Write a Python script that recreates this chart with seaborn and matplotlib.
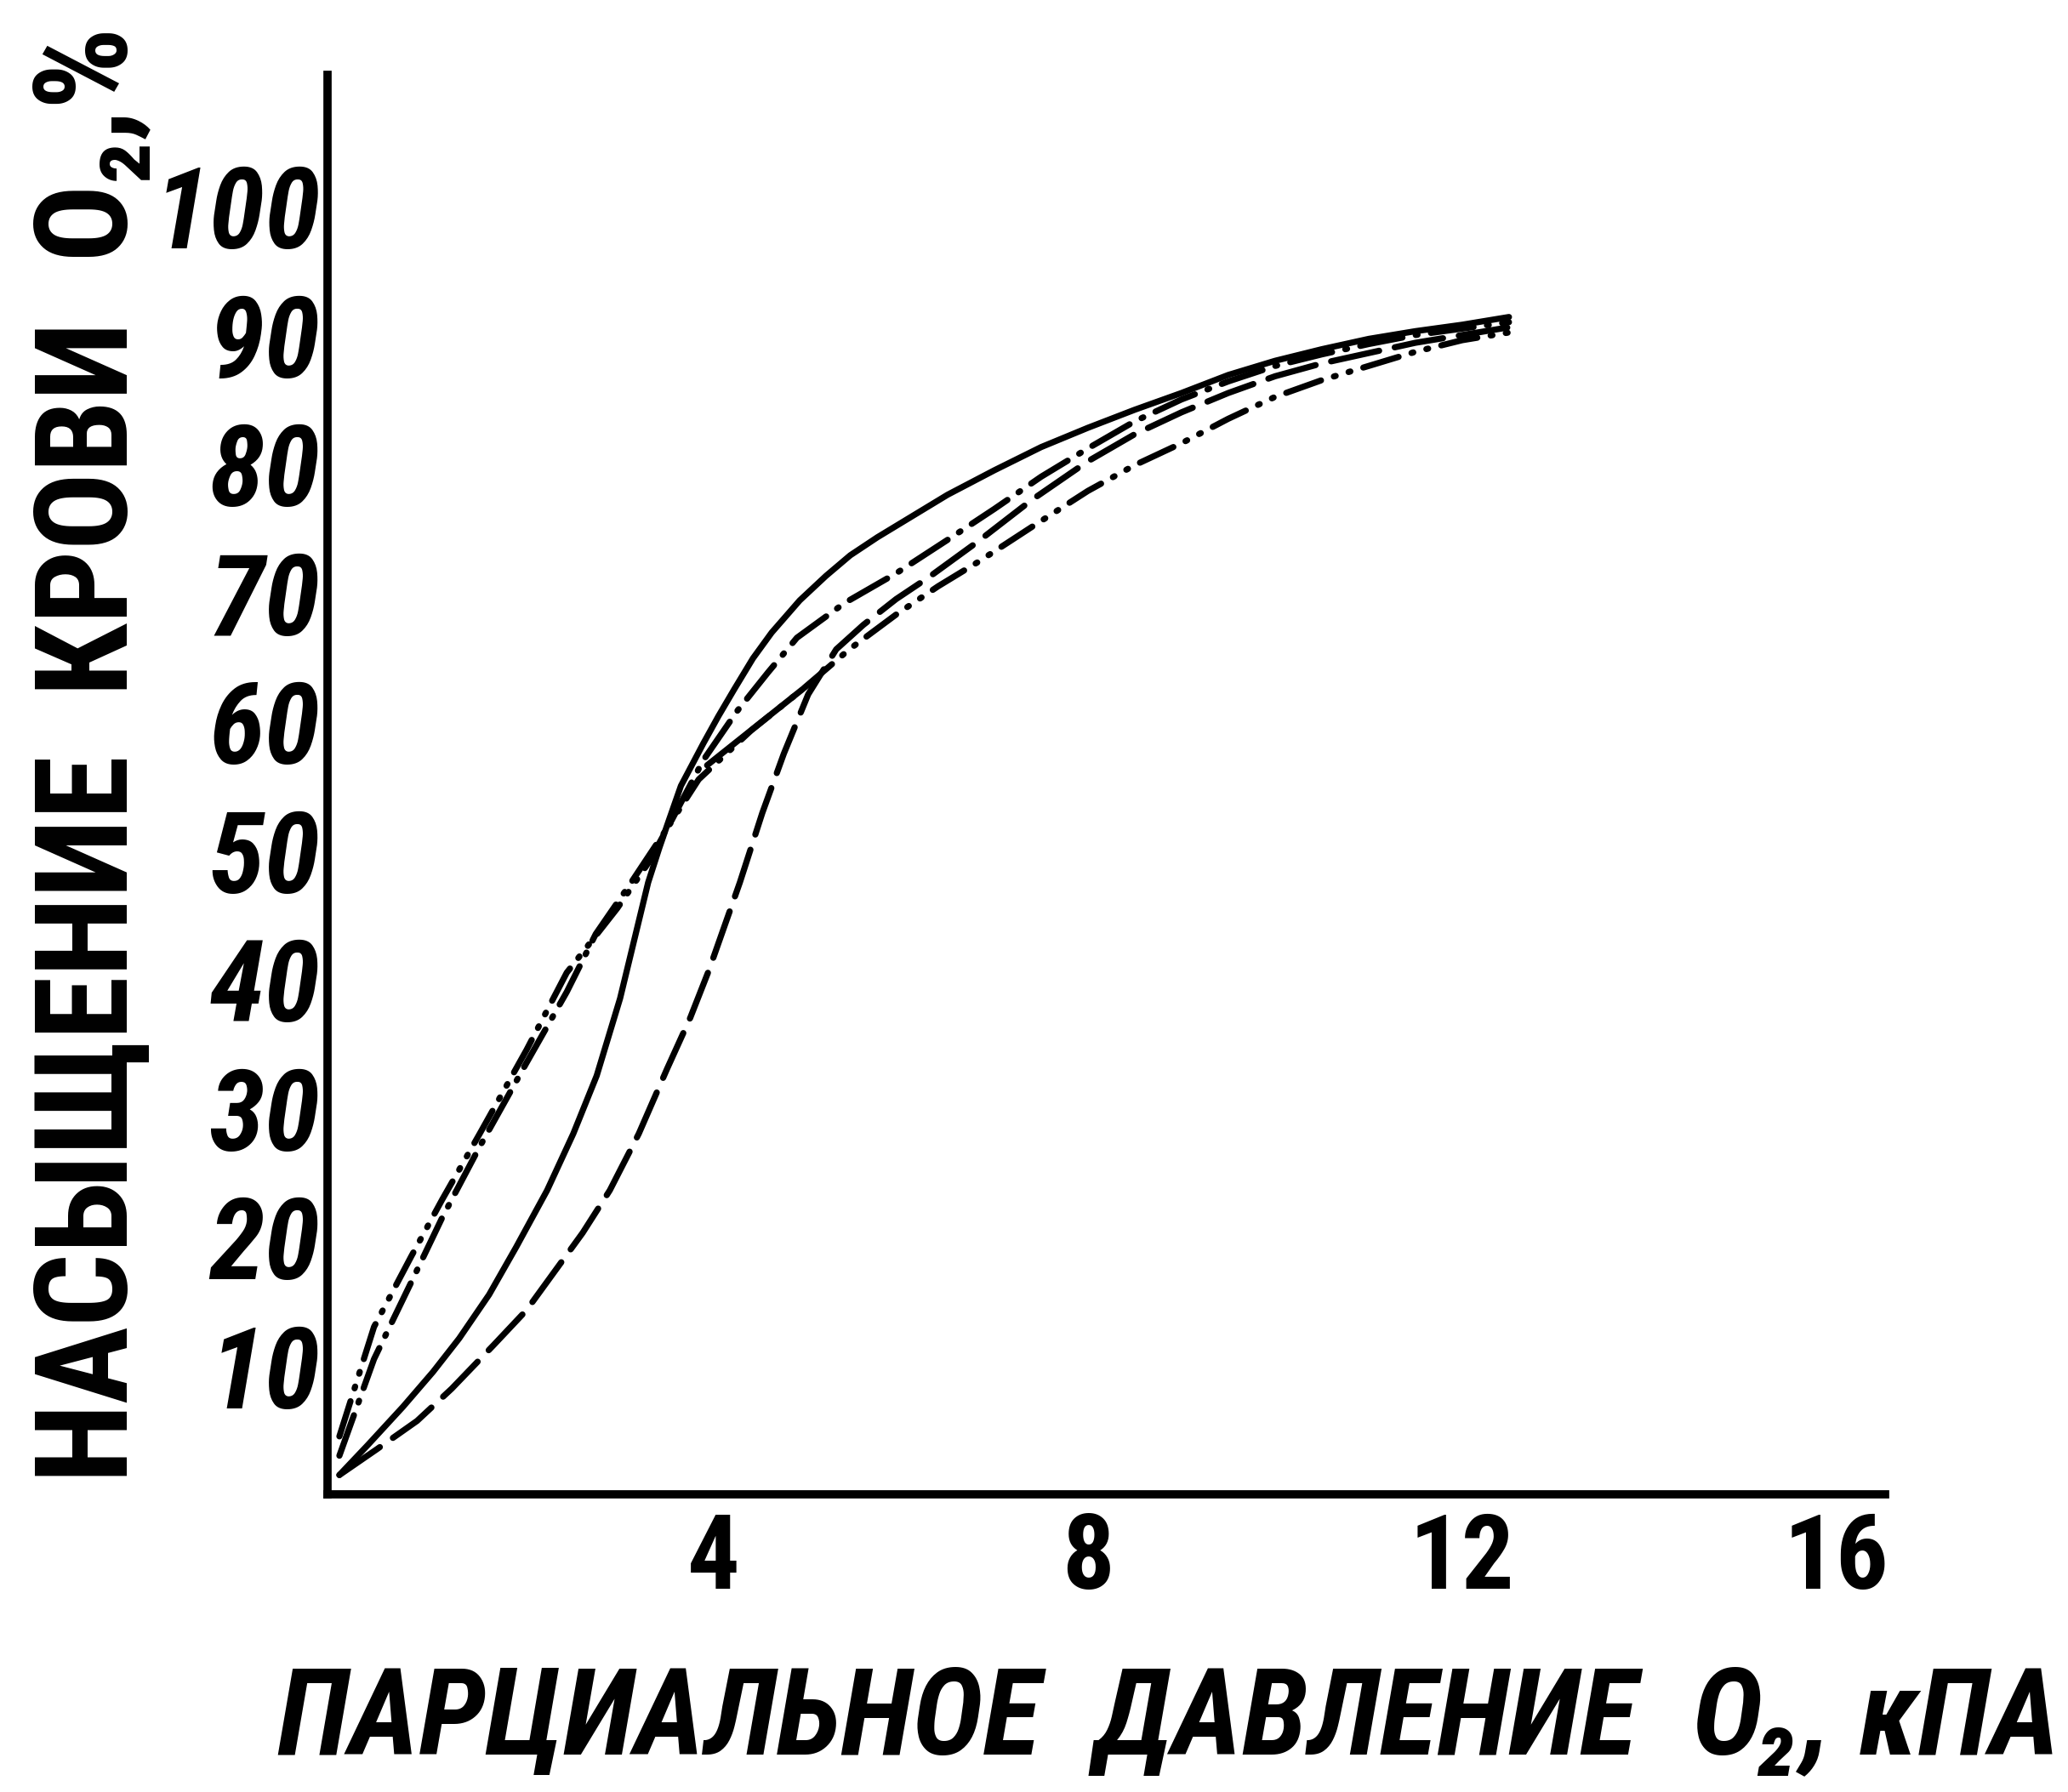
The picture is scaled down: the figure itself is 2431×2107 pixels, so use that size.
import matplotlib
matplotlib.use("Agg")
import matplotlib.pyplot as plt
import pandas as pd
import seaborn as sns
from matplotlib import font_manager as fm

# ---------------- data ----------------
solid_x = [0.0, 0.3, 0.68, 1.0, 1.28, 1.6, 1.89, 2.22, 2.5, 2.75, 3.0, 3.15, 3.3, 3.42, 3.52,
           3.65, 3.89, 4.05, 4.22, 4.42, 4.62, 4.92, 5.2, 5.46, 5.75, 6.0, 6.5, 7.0, 7.5,
           8.0, 8.5, 9.0, 9.5, 10.0, 10.5, 11.0, 11.5, 12.0, 12.5]
solid_y = [1.5, 3.8, 6.8, 9.5, 12.1, 15.5, 19.2, 23.6, 28.0, 32.5, 38.5, 43.0, 47.5, 50.2, 52.3,
           55.0, 58.3, 60.4, 62.5, 64.9, 66.9, 69.4, 71.3, 72.9, 74.3, 75.4, 77.6, 79.5, 81.3,
           82.8, 84.2, 85.5, 86.9, 88.0, 88.9, 89.7, 90.3, 90.8, 91.4]

dashed_x = [0.0, 0.4, 0.83, 1.2, 1.65, 2.0, 2.31, 2.6, 2.89, 3.2, 3.5, 3.75, 3.95,
            4.28, 4.52, 4.75, 5.01, 5.31, 5.6, 5.95, 6.3, 6.83, 7.4, 8.0, 8.5, 9.0, 9.5,
            10.0, 10.5, 11.0, 11.5, 12.0, 12.5]
dashed_y = [1.5, 3.5, 5.7, 8.2, 11.6, 14.3, 17.4, 20.3, 23.6, 28.0, 33.0, 37.0, 40.7,
            47.5, 52.9, 57.5, 62.1, 65.6, 67.5, 69.5, 71.2, 74.0, 77.2, 80.2, 82.3, 84.0, 85.5,
            86.8, 87.8, 88.6, 89.4, 90.0, 90.6]

dashdotdot_x = [0.0, 0.37, 0.77, 1.1, 1.5, 2.0, 2.43, 2.97, 3.3, 3.52, 3.84, 4.4, 4.95,
                5.45, 5.95, 6.4, 6.83, 7.4, 8.0, 8.5, 9.0, 9.5, 10.0, 10.5, 11.0, 11.5,
                12.0, 12.5]
dashdotdot_y = [4.5, 13.0, 18.5, 22.9, 28.0, 34.5, 40.5, 45.5, 49.0, 51.9, 55.5, 59.3, 62.5,
                65.6, 68.3, 70.5, 72.4, 75.1, 77.9, 79.9, 81.6, 83.5, 85.2, 86.5, 87.6, 88.7,
                89.6, 90.2]

dashdot_x = [0.0, 0.37, 0.77, 1.1, 1.5, 2.0, 2.43, 2.74, 3.1, 3.52, 3.89, 4.25, 4.58, 4.89,
             5.4, 5.95, 6.5, 7.0, 7.5, 8.0, 8.5, 9.0, 9.5, 10.0, 10.5, 11.0, 11.5, 12.0, 12.5]
dashdot_y = [3.0, 10.5, 16.5, 21.5, 27.0, 33.5, 39.0, 43.5, 47.3, 51.9, 57.0, 60.8, 63.8, 66.5,
             69.2, 71.5, 74.1, 76.5, 79.0, 81.2, 83.3, 85.0, 86.4, 87.6, 88.5, 89.3, 90.0,
             90.5, 91.0]

chord_x = [3.93, 4.95]
chord_y = [56.6, 62.5]

x_ticks = [4, 8, 12, 16]
y_ticks = [10, 20, 30, 40, 50, 60, 70, 80, 90, 100]

x_label = "ПАРЦИАЛЬНОЕ  ДАВЛЕНИЕ  O₂, кПА"
y_label = "НАСЫЩЕНИЕ  КРОВИ  O₂,%"

# ---------------- fonts ----------------
sns.set_theme(style="white")
ttf = fm.fontManager.ttflist
names = {f.name for f in ttf}
FONT, STRETCH = None, "normal"
for c in ["Liberation Sans Narrow", "Noto Sans Condensed", "DejaVu Sans Condensed",
          "Roboto Condensed", "Open Sans Condensed"]:
    if c in names:
        FONT = c
        break
if FONT is None:
    cond_vals = ("condensed", "semi-condensed", "extra-condensed", "ultra-condensed")
    cond = {f.name for f in ttf
            if (f.stretch in cond_vals) or (isinstance(f.stretch, int) and f.stretch <= 87)}
    for c in ["Noto Sans", "DejaVu Sans", "Open Sans", "Roboto", "Liberation Sans"]:
        if c in cond:
            FONT, STRETCH = c, "condensed"
            break
NARROW = FONT is not None
if FONT is None:
    FONT = "Liberation Sans"

plt.rcParams["font.family"] = [FONT, "DejaVu Sans"]
plt.rcParams["font.stretch"] = STRETCH
plt.rcParams["lines.dash_capstyle"] = "round"
plt.rcParams["lines.solid_capstyle"] = "round"
plt.rcParams["text.color"] = "black"
plt.rcParams["xtick.color"] = "black"
plt.rcParams["ytick.color"] = "black"

W, H = 2431, 2107
fig = plt.figure(figsize=(W / 100, H / 100), dpi=100)
fig.patch.set_facecolor("white")
ax = fig.add_axes([385 / W, (H - 1757) / H, (2216 - 385) / W, (1757 - 88) / H])
ax.set_facecolor("white")

frames = []
for name, xs, ys in [("solid", solid_x, solid_y),
                     ("dashed", dashed_x, dashed_y),
                     ("dashdotdot", dashdotdot_x, dashdotdot_y),
                     ("dashdot", dashdot_x, dashdot_y),
                     ("chord", chord_x, chord_y)]:
    frames.append(pd.DataFrame({"x": xs, "y": ys, "curve": name}))
df = pd.concat(frames, ignore_index=True)

dash_map = {"solid": "",
            "dashed": (8, 2.6),
            "dashdotdot": (6, 2.2, 0.3, 2.2, 0.3, 2.2),
            "dashdot": (7, 2.2, 0.3, 2.2),
            "chord": ""}

sns.lineplot(data=df, x="x", y="y", style="curve", dashes=dash_map, color="black",
             linewidth=5.2, sort=False, estimator=None, legend=False, ax=ax)

ax.set_xlim(-0.127, 16.52)
ax.set_ylim(0, 110.2)
sns.despine(ax=ax)
for s in ("left", "bottom"):
    ax.spines[s].set_linewidth(7)
    ax.spines[s].set_color("black")

ysize = 96 if NARROW else 76
ax.set_xticks(x_ticks)
ax.set_yticks(y_ticks)
ax.set_xticklabels([str(t) for t in x_ticks], fontsize=88 if NARROW else 74,
                   fontweight="bold", color="black")
ax.set_yticklabels([str(t) for t in y_ticks], fontsize=ysize, fontweight="bold",
                   fontstyle="italic", color="black")
ax.tick_params(axis="both", direction="out", length=12, width=5, color="black",
               labelcolor="black")
ax.tick_params(axis="y", pad=-6)
ax.tick_params(axis="x", pad=2)
ax.set_xlabel("")
ax.set_ylabel("")
ax.grid(False)

ty = fig.text(108 / W, (H - 887) / H, y_label, rotation=90, ha="center", va="center",
              fontsize=90, fontweight="bold", color="black")
tx = fig.text(326 / W, (H - 2023) / H, x_label, ha="left", va="center",
              fontsize=100, fontweight="bold", fontstyle="italic", color="black")


def fit(t, target, use_height):
    for _ in range(3):
        fig.canvas.draw()
        bb = t.get_window_extent(fig.canvas.get_renderer())
        cur = bb.height if use_height else bb.width
        if cur > 0:
            t.set_fontsize(t.get_fontsize() * target / cur)


fit(ty, 1713, True)
fit(tx, 2095, False)

fig.savefig("out.png", dpi=100, facecolor="white")
